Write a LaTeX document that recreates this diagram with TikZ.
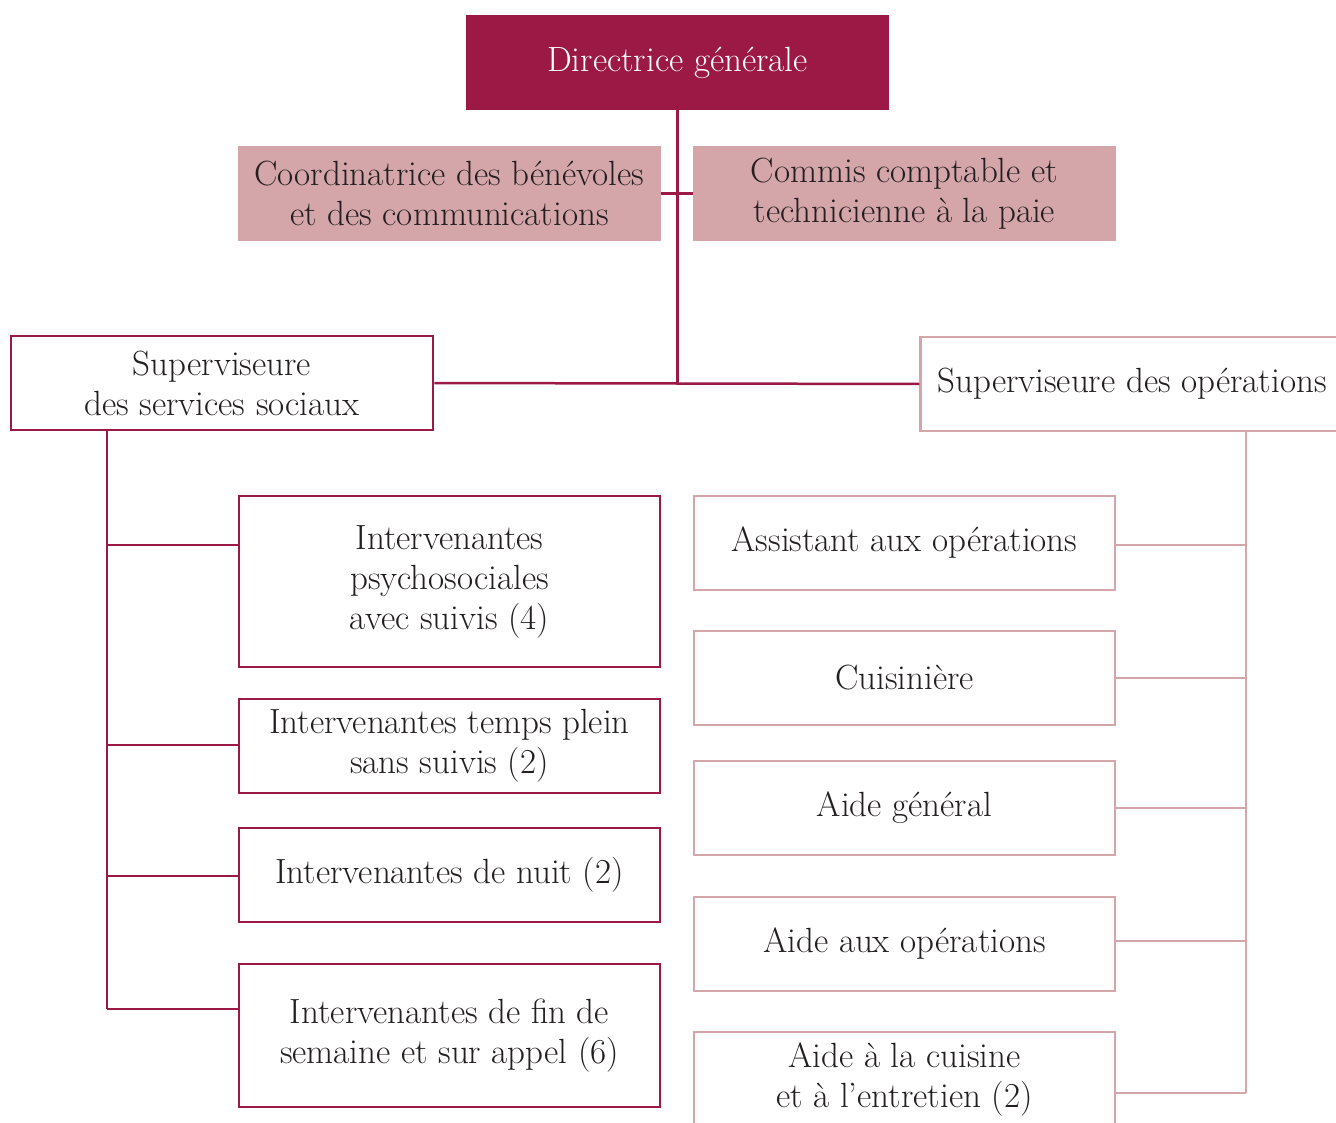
\documentclass[tikz,border=0pt]{standalone}
\usepackage{fontspec}
\definecolor{bordeaux}{HTML}{9B1944}
\definecolor{rose}{HTML}{D4A5A9}
\definecolor{encre}{HTML}{231F20}
\tikzset{
  poste/.style={minimum width=421pt, minimum height=94pt, inner sep=0pt, align=center, text=encre, font=\fontsize{35}{40}\selectfont},
  direction/.style={poste, fill=bordeaux, text=white, minimum width=423pt, minimum height=95pt},
  adjoint/.style={poste, fill=rose, minimum width=423pt, minimum height=95pt},
  social/.style={poste, draw=bordeaux, line width=2.5pt, fill=white},
  operation/.style={poste, draw=rose, line width=2.5pt, fill=white},
  lienS/.style={draw=bordeaux, line width=2.5pt},
  lienO/.style={draw=rose, line width=2.5pt},
}
\begin{document}
\begin{tikzpicture}[x=1pt, y=-1pt]
  \useasboundingbox (0,0) rectangle (1336,1123);
  \clip (0,0) rectangle (1336,1123);
  \node[direction] (dg) at (677.5,62.5) {Directrice générale};
  \node[adjoint] (coord) at (449.5,193.5) {Coordinatrice des bénévoles\\et des communications};
  \node[adjoint] (commis) at (904.5,193.5) {Commis comptable et\\technicienne à la paie};
  \node[social, minimum width=422pt] (sss) at (222,383) {Superviseure\\des services sociaux};
  \node[operation, minimum width=423pt] (so) at (1132,384) {Superviseure des opérations};
  \node[social, minimum height=171pt] (ps1) at (449.5,581.5) {Intervenantes\\psychosociales\\avec suivis (4)};
  \node[social] (ps2) at (449.5,746) {Intervenantes temps plein\\sans suivis (2)};
  \node[social] (ps3) at (449.5,875) {Intervenantes de nuit (2)};
  \node[social, minimum height=143pt] (ps4) at (449.5,1035.5) {Intervenantes de fin de\\semaine et sur appel (6)};
  \node[operation] (op1) at (904.5,543) {Assistant aux opérations};
  \node[operation] (op2) at (904.5,678) {Cuisinière};
  \node[operation] (op3) at (904.5,808) {Aide général};
  \node[operation] (op4) at (904.5,944) {Aide aux opérations};
  \node[operation] (op5) at (904.5,1079) {Aide à la cuisine\\et à l’entretien (2)};
  \coordinate (tronc) at (677.5,384);
  \draw[lienS] (dg.south) -- (tronc);
  \draw[lienS] (coord.east) -- (commis.west);
  \draw[lienS] (sss.east) -- (so.west);
  \coordinate (gauche) at (107,1009);
  \draw[lienS] (gauche |- sss.south) -- (gauche);
  \foreach \b/\y in {ps1/545, ps2/745, ps3/876, ps4/1009} {
    \coordinate (g\b) at (107,\y);
    \draw[lienS] (g\b) -- (g\b -| \b.west);
  }
  \coordinate (droite) at (1246,1093);
  \draw[lienO] (droite |- so.south) -- (droite);
  \foreach \b/\y in {op1/545, op2/678, op3/808, op4/941, op5/1093} {
    \coordinate (d\b) at (1246,\y);
    \draw[lienO] (d\b) -- (d\b -| \b.east);
  }
\end{tikzpicture}
\end{document}
